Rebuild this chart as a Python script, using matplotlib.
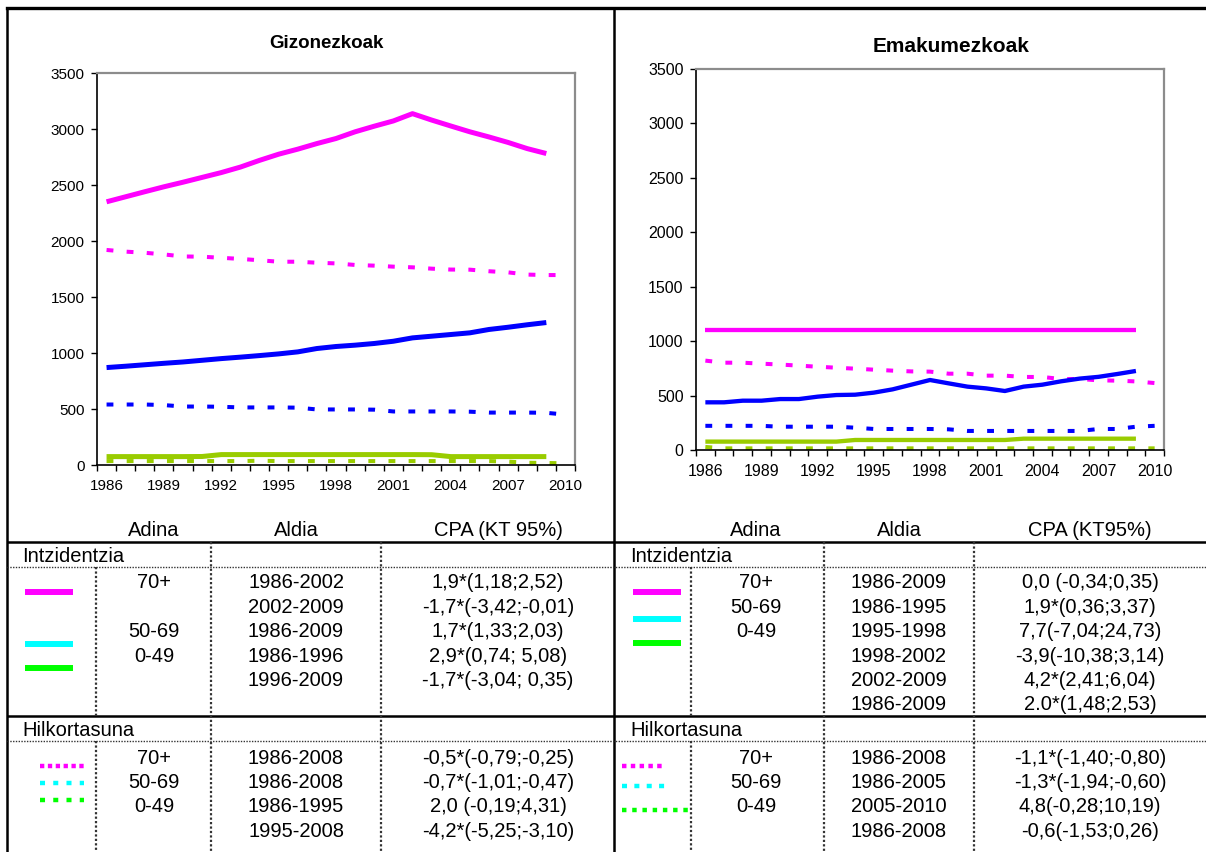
import matplotlib
matplotlib.use("Agg")
import matplotlib.pyplot as plt

plt.rcParams["font.family"] = ["Liberation Sans", "DejaVu Sans"]

YEARS = list(range(1986, 2011))
LABEL_YEARS = YEARS[::3]

MAGENTA, BLUE, LIME = "#FF00FF", "#0000FF", "#99CC00"
SW_CYAN, SW_GREEN = "#00FFFF", "#00FF00"

# Gizonezkoak: intzidentzia 1986-2009, hilkortasuna 1986-2010
m_inc_70 = [2350, 2395, 2440, 2484, 2525, 2568, 2611, 2660, 2720, 2775, 2820, 2870,
            2915, 2975, 3025, 3072, 3137, 3080, 3027, 2975, 2929, 2880, 2825, 2781]
m_mort_70 = [1920, 1905, 1895, 1880, 1862, 1860, 1850, 1840, 1828, 1815, 1815, 1806, 1800,
             1786, 1780, 1771, 1765, 1753, 1745, 1744, 1730, 1720, 1700, 1696, 1696]
m_inc_50 = [870, 882, 895, 908, 920, 935, 950, 963, 977, 992, 1010, 1040,
            1058, 1070, 1085, 1105, 1135, 1150, 1165, 1180, 1210, 1230, 1252, 1272]
m_mort_50 = [540, 540, 540, 535, 522, 522, 520, 514, 514, 514, 512, 496, 496,
             496, 494, 478, 478, 478, 478, 476, 468, 468, 468, 466, 450]
m_inc_0 = [75, 75, 75, 75, 75, 76, 93, 93, 93, 93, 93, 93,
           93, 93, 93, 93, 93, 92, 75, 75, 75, 75, 75, 75]
m_mort_0 = [35, 35, 35, 35, 35, 35, 35, 35, 38, 35, 35, 35, 35,
            35, 35, 35, 35, 35, 35, 35, 35, 30, 20, 18, 15]

# Emakumezkoak
f_inc_70 = [1105] * 24
f_mort_70 = [821, 802, 802, 793, 785, 775, 765, 756, 747, 738, 729, 722, 720,
             701, 701, 683, 683, 671, 671, 652, 652, 640, 637, 630, 615]
f_inc_50 = [438, 438, 453, 453, 468, 468, 490, 505, 508, 527, 557, 600,
            643, 612, 582, 566, 542, 582, 600, 631, 656, 672, 698, 726]
f_mort_50 = [222, 222, 222, 222, 214, 214, 214, 214, 205, 193, 193, 193, 193,
             190, 175, 175, 175, 175, 175, 175, 175, 193, 193, 214, 222]
f_inc_0 = [77, 77, 77, 77, 77, 77, 77, 77, 92, 92, 92, 92,
           92, 92, 92, 92, 92, 104, 104, 104, 104, 104, 104, 104]
f_mort_0 = [28, 15, 15, 15, 15, 15, 15, 15, 15, 15, 15, 15, 15,
            15, 15, 15, 15, 15, 15, 15, 15, 15, 15, 15, 15]

# table texts
HEADERS_L = ["Adina", "Aldia", "CPA (KT 95%)"]
HEADERS_R = ["Adina", "Aldia", "CPA (KT95%)"]
SECTIONS = ["Intzidentzia", "Hilkortasuna"]

inc_age_L = ["70+", "", "50-69", "0-49", ""]
inc_period_L = ["1986-2002", "2002-2009", "1986-2009", "1986-1996", "1996-2009"]
inc_cpa_L = ["1,9*(1,18;2,52)", "-1,7*(-3,42;-0,01)", "1,7*(1,33;2,03)",
             "2,9*(0,74; 5,08)", "-1,7*(-3,04; 0,35)"]
mort_age_L = ["70+", "50-69", "0-49", ""]
mort_period_L = ["1986-2008", "1986-2008", "1986-1995", "1995-2008"]
mort_cpa_L = ["-0,5*(-0,79;-0,25)", "-0,7*(-1,01;-0,47)", "2,0 (-0,19;4,31)",
              "-4,2*(-5,25;-3,10)"]

inc_age_R = ["70+", "50-69", "0-49", "", "", ""]
inc_period_R = ["1986-2009", "1986-1995", "1995-1998", "1998-2002", "2002-2009", "1986-2009"]
inc_cpa_R = ["0,0 (-0,34;0,35)", "1,9*(0,36;3,37)", "7,7(-7,04;24,73)",
             "-3,9(-10,38;3,14)", "4,2*(2,41;6,04)", "2.0*(1,48;2,53)"]
mort_age_R = ["70+", "50-69", "0-49", ""]
mort_period_R = ["1986-2008", "1986-2005", "2005-2010", "1986-2008"]
mort_cpa_R = ["-1,1*(-1,40;-0,80)", "-1,3*(-1,94;-0,60)", "4,8(-0,28;10,19)",
              "-0,6(-1,53;0,26)"]

W, H = 1206, 852
fig = plt.figure(figsize=(W / 100, H / 100), dpi=100)

base = fig.add_axes([0, 0, 1, 1], zorder=0)
base.set_xlim(0, W); base.set_ylim(H, 0); base.axis("off")


def box(x0, y0, x1, y1):
    return [x0 / W, 1 - y1 / H, (x1 - x0) / W, (y1 - y0) / H]


def panel(rect, title, tfs, tx, ty, series, solid_lw, tick_fs):
    ax = fig.add_axes(box(*rect), zorder=2)
    dotted = (0, (1.7, 3.3))
    for vals, color, kind in series:
        x = range(len(vals))
        if kind == "solid":
            ax.plot(x, vals, color=color, lw=solid_lw, solid_capstyle="butt",
                    solid_joinstyle="round")
        else:
            ax.plot(x, vals, color=color, lw=2.9, ls=dotted, dash_capstyle="butt")
    ax.set_xlim(-0.5, len(YEARS) - 0.5)
    ax.set_ylim(0, 3500)
    ax.set_yticks(range(0, 3501, 500))
    ax.set_xticks([i - 0.5 for i in range(len(YEARS) + 1)])
    ax.set_xticklabels([])
    ax.set_xticks([YEARS.index(y) for y in LABEL_YEARS], minor=True)
    ax.set_xticklabels([str(y) for y in LABEL_YEARS], minor=True)
    ax.tick_params(axis="x", which="major", length=4, width=1, direction="out")
    ax.tick_params(axis="x", which="minor", length=0, pad=10, labelsize=tick_fs)
    ax.tick_params(axis="y", length=4, width=1, pad=5, labelsize=tick_fs)
    for s in ("left", "bottom"):
        ax.spines[s].set_color("black"); ax.spines[s].set_linewidth(1.2)
    for s in ("top", "right"):
        ax.spines[s].set_color("#8c8c8c"); ax.spines[s].set_linewidth(1.6)
    fig.text(tx / W, 1 - ty / H, title, fontsize=tfs, fontweight="bold",
             ha="center", va="center")
    return ax


panel((97, 73, 575, 465), "Gizonezkoak", 13.5, 326, 43,
      [(m_mort_70, MAGENTA, "dot"), (m_mort_50, BLUE, "dot"), (m_mort_0, LIME, "dot"),
       (m_inc_70, MAGENTA, "solid"), (m_inc_50, BLUE, "solid"), (m_inc_0, LIME, "solid")],
      3.6, 11)
panel((696, 69, 1164, 450), "Emakumezkoak", 15, 951, 46,
      [(f_mort_70, MAGENTA, "dot"), (f_mort_50, BLUE, "dot"), (f_mort_0, LIME, "dot"),
       (f_inc_70, MAGENTA, "solid"), (f_inc_50, BLUE, "solid"), (f_inc_0, LIME, "solid")],
      3.1, 11.5)

# frame and table grid
K = dict(color="black", lw=1.8, solid_capstyle="butt")
DOT = dict(color="#333333", lw=1.0, ls=(0, (1, 1)))
VDOT = dict(color="#333333", lw=1.6, ls=(0, (1, 1)))
base.plot([7, W], [8, 8], color="black", lw=2.4)
base.plot([7, 7], [8, H], **K)
base.plot([614, 614], [8, H], **K)
for y in (542, 716):
    base.plot([7, W], [y, y], **K)
for y in (567, 741):
    base.plot([7, W], [y, y], **DOT)
for x in (96, 691):
    base.plot([x, x], [567, 716], **VDOT)
    base.plot([x, x], [741, H], **VDOT)
for x in (211, 381, 824, 974):
    base.plot([x, x], [542, H], **VDOT)

FS = 14.5
ROW = 24.4
DY = 2  # nudge text down onto the row centre


def table(left, cols, headers, inc, mort, sw_inc, sw_mort):
    for cx, h in zip(cols, headers):
        base.text(cx, 529 + DY, h, fontsize=FS, ha="center", va="center")
    base.text(left, 555 + DY, SECTIONS[0], fontsize=FS, ha="left", va="center")
    base.text(left, 729 + DY, SECTIONS[1], fontsize=FS, ha="left", va="center")
    for y0, block in ((581, inc), (756, mort)):
        for c, cx in enumerate(cols):
            for r, t in enumerate(block[c]):
                base.text(cx, y0 + r * ROW + DY, t, fontsize=FS, ha="center", va="center")
    for (x0, x1, y), color in sw_inc:
        base.plot([x0, x1], [y, y], color=color, lw=4.3, solid_capstyle="butt")
    for (x0, x1, y, dash), color in sw_mort:
        base.plot([x0, x1], [y, y], color=color, lw=3.2, ls=(0, dash),
                  dash_capstyle="butt")


table(22, (154, 296, 498), HEADERS_L,
      (inc_age_L, inc_period_L, inc_cpa_L), (mort_age_L, mort_period_L, mort_cpa_L),
      [((25, 73, 592), MAGENTA), ((25, 73, 644), SW_CYAN), ((25, 73, 668), SW_GREEN)],
      [((40, 84, 766, (0.97, 0.8)), MAGENTA), ((40, 84, 783, (1.13, 1.85)), SW_CYAN),
       ((40, 84, 800, (1.13, 1.85)), SW_GREEN)])
table(630, (756, 899, 1090), HEADERS_R,
      (inc_age_R, inc_period_R, inc_cpa_R), (mort_age_R, mort_period_R, mort_cpa_R),
      [((633, 681, 592), MAGENTA), ((633, 681, 619), SW_CYAN), ((633, 681, 643), SW_GREEN)],
      [((622, 666, 766, (1.0, 0.98)), MAGENTA), ((622, 666, 786, (1.13, 1.65)), SW_CYAN),
       ((622, 690, 810, (1.0, 1.3)), SW_GREEN)])

fig.savefig("out.png", dpi=100)
